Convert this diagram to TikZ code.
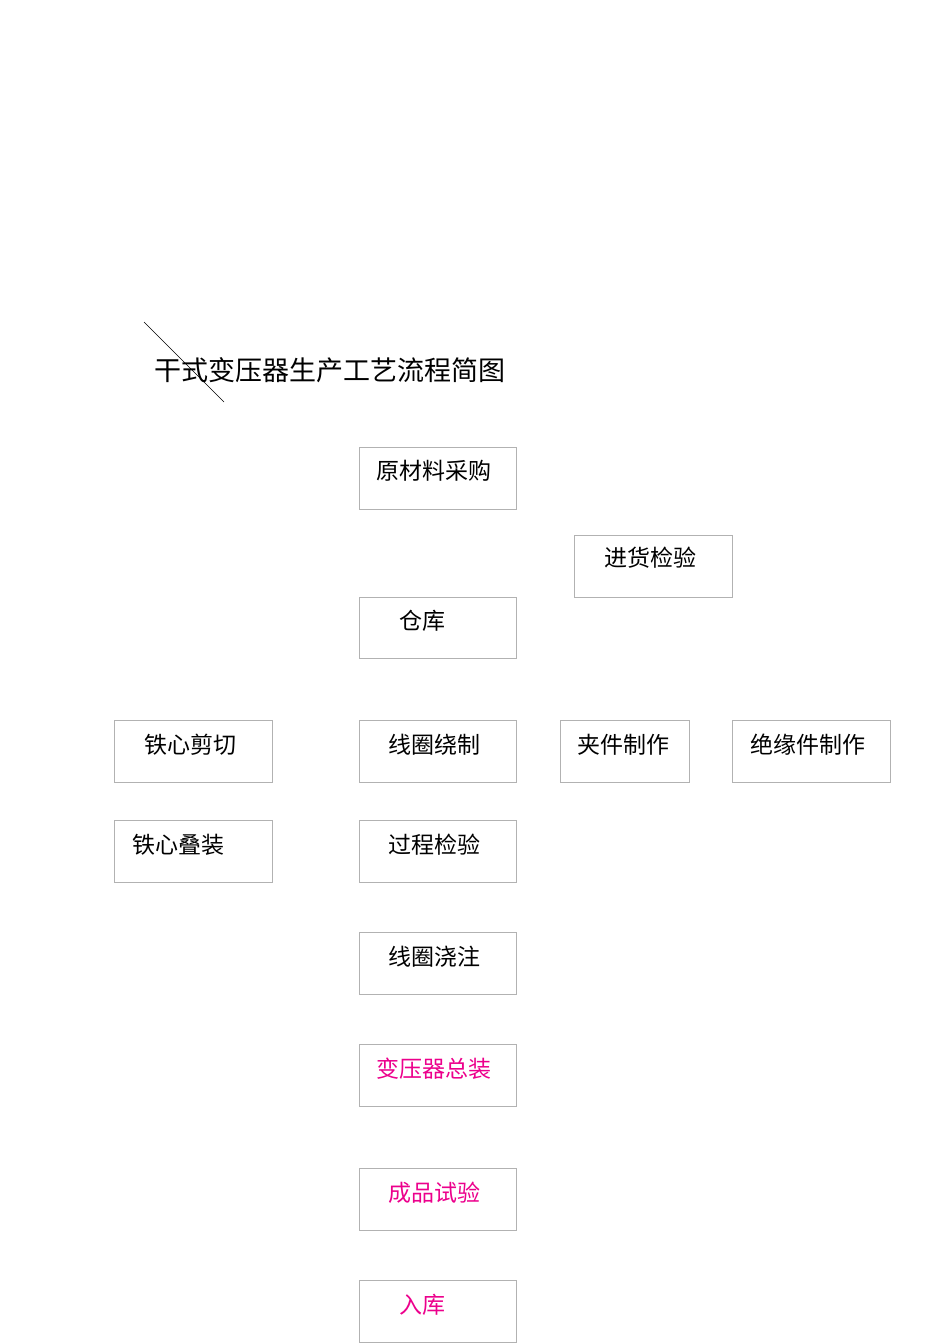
\documentclass[tikz,border=0pt]{standalone}
\usepackage{fontspec}
\setmainfont{Noto Sans CJK SC}
\begin{document}
\begin{tikzpicture}[x=1pt,y=-1pt,
  boxs/.style={draw=black!30,line width=0.6pt},
  lbl/.style={font=\fontsize{23}{26}\selectfont,inner sep=0pt,anchor=center},
  mg/.style={text=magenta}]
\useasboundingbox (0,0) rectangle (950,1344);
\node[lbl,font=\fontsize{27}{30}\selectfont] (title) at (330,370) {干式变压器生产工艺流程简图};
\coordinate (d1) at (144,322); \coordinate (d2) at (224,402);
\draw[line width=0.6pt] (d1) -- (d2);
\newcommand\mybox[6]{\draw[boxs] (#1,#2) rectangle (#3,#4); \node[lbl,#6] at (#5) {};}
\draw[boxs] (359,447) rectangle (516,509); \node[lbl] (n1) at (434,471) {原材料采购};
\draw[boxs] (574,535) rectangle (732,597); \node[lbl] (n2) at (650,558) {进货检验};
\draw[boxs] (359,597) rectangle (516,658); \node[lbl] (n3) at (422,621) {仓库};
\draw[boxs] (114,720) rectangle (272,782); \node[lbl] (n4) at (190,745) {铁心剪切};
\draw[boxs] (359,720) rectangle (516,782); \node[lbl] (n5) at (434,745) {线圈绕制};
\draw[boxs] (560,720) rectangle (689,782); \node[lbl] (n6) at (623,745) {夹件制作};
\draw[boxs] (732,720) rectangle (890,782); \node[lbl] (n7) at (808,745) {绝缘件制作};
\draw[boxs] (114,820) rectangle (272,882); \node[lbl] (n8) at (178,845) {铁心叠装};
\draw[boxs] (359,820) rectangle (516,882); \node[lbl] (n9) at (434,845) {过程检验};
\draw[boxs] (359,932) rectangle (516,994); \node[lbl] (n10) at (434,957) {线圈浇注};
\draw[boxs] (359,1044) rectangle (516,1106); \node[lbl,mg] (n11) at (434,1069) {变压器总装};
\draw[boxs] (359,1168) rectangle (516,1230); \node[lbl,mg] (n12) at (434,1193) {成品试验};
\draw[boxs] (359,1280) rectangle (516,1342); \node[lbl,mg] (n13) at (422,1305) {入库};
\end{tikzpicture}
\end{document}
